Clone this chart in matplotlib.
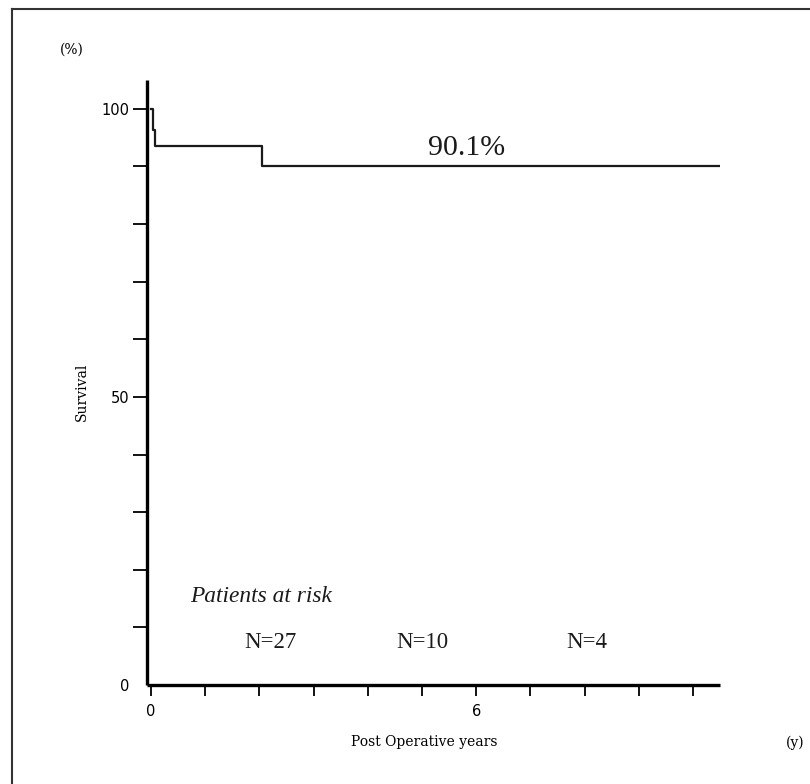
import matplotlib
matplotlib.use("Agg")
import matplotlib.pyplot as plt
from matplotlib.lines import Line2D

# Data
times = [0.0, 0.04, 0.08, 2.05, 10.5]
survival = [100.0, 96.4, 93.6, 90.1, 90.1]
risk_times = [2.2, 5.0, 8.05]
risk_labels = ["N=27", "N=10", "N=4"]
final_label = "90.1%"
x_ticks = list(range(0, 11))
x_ticklabels = ["0", "", "", "", "", "", "6", "", "", "", ""]
y_ticks = list(range(0, 101, 10))
y_ticklabels = ["0", "", "", "", "", "50", "", "", "", "", "100"]

W, H = 810, 784
fig = plt.figure(figsize=(W / 100, H / 100), dpi=100)
fig.patch.set_facecolor("white")

# outer frame (top and left edges visible)
fig.add_artist(Line2D([12 / W, 12 / W], [0, 1 - 9 / H], transform=fig.transFigure,
                      color="#333333", lw=1.5))
fig.add_artist(Line2D([12 / W, 1], [1 - 9 / H, 1 - 9 / H], transform=fig.transFigure,
                      color="#333333", lw=1.5))

left, right = 147 / W, 720 / W
bottom, top = 1 - 685 / H, 1 - 80 / H
ax = fig.add_axes([left, bottom, right - left, top - bottom])
ax.set_xlim(-0.074, 10.5)
ax.set_ylim(0, 105)

for s in ["top", "right"]:
    ax.spines[s].set_visible(False)
for s in ["left", "bottom"]:
    ax.spines[s].set_linewidth(2.4)
    ax.spines[s].set_color("black")
    ax.spines[s].set_capstyle("butt")

ax.plot(times, survival, drawstyle="steps-post", color="#1a1a1a", lw=1.6)

ax.set_xticks(x_ticks)
ax.set_xticklabels(x_ticklabels)
ax.set_yticks(y_ticks)
ax.set_yticklabels(y_ticklabels)
ax.tick_params(axis="x", direction="out", length=8, width=1.3, pad=6,
               labelsize=10.5)
ax.tick_params(axis="y", direction="out", length=10, width=1.3, pad=3,
               labelsize=10.5)
ax.yaxis.get_major_ticks()[0].tick1line.set_visible(False)
for lab in ax.get_xticklabels() + ax.get_yticklabels():
    lab.set_fontfamily("DejaVu Sans")

ax.text(5.83, 93.2, final_label, ha="center", va="center",
        fontsize=21.5, fontfamily="Liberation Serif", color="#1a1a1a")
ax.text(0.72, 15.4, "Patients at risk", ha="left", va="center",
        fontsize=16.8, fontstyle="italic", fontfamily="Liberation Serif",
        color="#1a1a1a")
for t, lab in zip(risk_times, risk_labels):
    ax.text(t, 7.3, lab, ha="center", va="center", fontsize=16.5,
            fontfamily="Liberation Serif", color="#1a1a1a")

fig.text(82 / W, 1 - 392 / H, "Survival", rotation=90, ha="center",
         va="center", fontsize=10, fontfamily="DejaVu Serif")
fig.text(424 / W, 1 - 742 / H, "Post Operative years", ha="center",
         va="center", fontsize=10, fontfamily="DejaVu Serif")
fig.text(72 / W, 1 - 50 / H, "(%)", ha="center", va="center",
         fontsize=10, fontfamily="DejaVu Serif")
fig.text(795 / W, 1 - 743 / H, "(y)", ha="center", va="center",
         fontsize=10, fontfamily="DejaVu Serif")

fig.savefig("out.png", dpi=100, facecolor="white")
